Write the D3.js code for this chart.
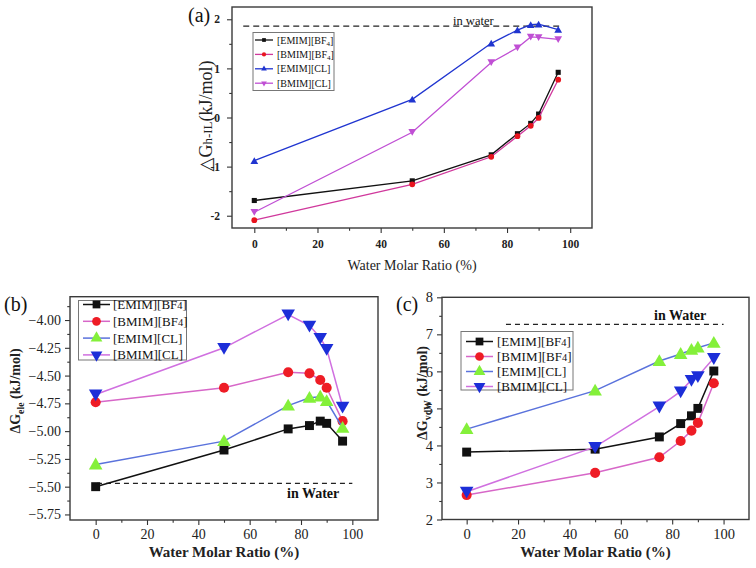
<!DOCTYPE html>
<html><head><meta charset="utf-8">
<script src="https://cdn.jsdelivr.net/npm/d3@7"></script>
<style>html,body{margin:0;padding:0;background:#fff;} svg{display:block;} svg text{font-family:"Liberation Serif","DejaVu Serif",serif;}</style>
</head><body><svg id="c" width="756" height="568"></svg>
<script>
// ---------- data ----------
const waterRatio = [0, 50, 75, 83.3, 87.5, 90, 96.2];
const seriesNames = ["EMIM|BF4", "BMIM|BF4", "EMIM|CL", "BMIM|CL"];

// (a) ΔG h-IL
const hIL_EMIM_BF4 = [-1.69, -1.29, -0.76, -0.33, -0.12, 0.07, 0.92];
const hIL_BMIM_BF4 = [-2.09, -1.36, -0.80, -0.38, -0.17, -0.01, 0.77];
const hIL_EMIM_CL  = [-0.88, 0.37, 1.51, 1.78, 1.89, 1.90, 1.79];
const hIL_BMIM_CL  = [-1.93, -0.30, 1.12, 1.42, 1.64, 1.63, 1.59];
const hIL_water = 1.86;

// (b) ΔG ele
const ele_EMIM_BF4 = [-5.50, -5.17, -4.98, -4.95, -4.91, -4.93, -5.09];
const ele_BMIM_BF4 = [-4.74, -4.61, -4.47, -4.48, -4.54, -4.61, -4.91];
const ele_EMIM_CL  = [-5.30, -5.09, -4.77, -4.70, -4.69, -4.73, -4.97];
const ele_BMIM_CL  = [-4.67, -4.25, -3.95, -4.05, -4.16, -4.26, -4.78];
const ele_water = -5.47;

// (c) ΔG vdW
const vdw_EMIM_BF4 = [3.82, 3.90, 4.23, 4.59, 4.80, 5.00, 6.01];
const vdw_BMIM_BF4 = [2.66, 3.26, 3.68, 4.12, 4.40, 4.61, 5.68];
const vdw_EMIM_CL  = [4.44, 5.48, 6.28, 6.47, 6.58, 6.64, 6.77];
const vdw_BMIM_CL  = [2.75, 3.96, 5.05, 5.46, 5.77, 5.87, 6.36];
const vdw_water = 7.27;

const xTicks = [0, 20, 40, 60, 80, 100];
const xMinor = [10, 30, 50, 70, 90];
const yTicksA = [-2, -1, 0, 1, 2];
const yMinorA = [-1.5, -0.5, 0.5, 1.5];
const yTicksB = [-5.75, -5.5, -5.25, -5.0, -4.75, -4.5, -4.25, -4.0];
const yMinorB = [-5.625, -5.375, -5.125, -4.875, -4.625, -4.375, -4.125, -3.875];
const yTicksC = [2, 3, 4, 5, 6, 7, 8];
const yMinorC = [2.5, 3.5, 4.5, 5.5, 6.5, 7.5];

const svg = d3.select("#c");

function sym(type, size) {
  const s = {sq: d3.symbolSquare, ci: d3.symbolCircle, up: d3.symbolTriangle, dn: d3.symbolTriangle}[type];
  return d3.symbol().type(s).size(size)();
}

function panel(cfg) {
  const g = svg.append("g");
  const x = d3.scaleLinear().domain(cfg.xDom).range([cfg.L, cfg.R]);
  const y = d3.scaleLinear().domain(cfg.yDom).range([cfg.B, cfg.T]);

  const ax = g.append("g").attr("transform", `translate(0,${cfg.B})`)
    .call(d3.axisBottom(x).tickValues(xTicks).tickSize(cfg.tick).tickPadding(cfg.pad).tickFormat(d3.format("d")));
  ax.select(".domain").remove();
  ax.selectAll("text").attr("font-size", cfg.tickFs).attr("font-weight", cfg.tickFw).attr("fill", "#222");
  const axm = g.append("g").attr("transform", `translate(0,${cfg.B})`)
    .call(d3.axisBottom(x).tickValues(xMinor).tickSize(cfg.tick * 0.55).tickFormat(""));
  axm.select(".domain").remove();

  const ay = g.append("g").attr("transform", `translate(${cfg.L},0)`)
    .call(d3.axisLeft(y).tickValues(cfg.yTicks).tickSize(cfg.tick).tickPadding(cfg.pad).tickFormat(cfg.yFmt));
  ay.select(".domain").remove();
  ay.selectAll("text").attr("font-size", cfg.tickFs).attr("font-weight", cfg.tickFw).attr("fill", "#222");
  const aym = g.append("g").attr("transform", `translate(${cfg.L},0)`)
    .call(d3.axisLeft(y).tickValues(cfg.yMinor).tickSize(cfg.tick * 0.55).tickFormat(""));
  aym.select(".domain").remove();
  g.selectAll(".tick line").attr("stroke", "#333").attr("stroke-width", 1.1);

  g.append("rect").attr("x", cfg.L).attr("y", cfg.T).attr("width", cfg.R - cfg.L).attr("height", cfg.B - cfg.T)
    .attr("fill", "none").attr("stroke", "#3a3a3a").attr("stroke-width", 1.4);

  g.append("line").attr("x1", x(cfg.water.x0)).attr("x2", x(cfg.water.x1))
    .attr("y1", y(cfg.water.y)).attr("y2", y(cfg.water.y))
    .attr("stroke", "#222").attr("stroke-width", 1.3).attr("stroke-dasharray", cfg.water.dash);
  g.append("text").attr("x", cfg.water.tx).attr("y", cfg.water.ty).text(cfg.water.label)
    .attr("font-size", cfg.water.fs).attr("font-weight", cfg.water.fw).attr("fill", "#111");

  cfg.series.forEach(s => {
    const pts = waterRatio.map((w, i) => [x(w), y(s.vals[i])]);
    g.append("path").attr("d", d3.line()(pts)).attr("fill", "none")
      .attr("stroke", s.line).attr("stroke-width", cfg.lw);
    g.selectAll(null).data(pts).enter().append("path")
      .attr("d", sym(s.m, cfg.ms))
      .attr("transform", d => `translate(${d[0]},${d[1] + (s.m === "up" ? 1 : s.m === "dn" ? -1 : 0)})${s.m === "dn" ? " rotate(180)" : ""}`)
      .attr("fill", s.mk);
  });

  const lg = cfg.legend;
  g.append("rect").attr("x", lg.x).attr("y", lg.y).attr("width", lg.w).attr("height", lg.h)
    .attr("fill", "#fff").attr("stroke", "#777").attr("stroke-width", 1);
  cfg.series.forEach((s, i) => {
    const yy = lg.y0 + i * lg.dy;
    g.append("line").attr("x1", lg.lx0).attr("x2", lg.lx1).attr("y1", yy).attr("y2", yy)
      .attr("stroke", s.line).attr("stroke-width", cfg.lw);
    g.append("path").attr("d", sym(s.m, lg.ms))
      .attr("transform", `translate(${(lg.lx0 + lg.lx1) / 2},${yy})${s.m === "dn" ? " rotate(180)" : ""}`)
      .attr("fill", s.mk);
    const parts = seriesNames[i].split("|");
    const t = g.append("text").attr("x", lg.tx).attr("y", yy + lg.fs * 0.35).attr("font-size", lg.fs).attr("fill", "#111");
    t.append("tspan").text("[" + parts[0] + "][");
    if (parts[1] === "BF4") {
      t.append("tspan").text("BF");
      if (lg.sub) {
        t.append("tspan").text("4").attr("font-size", lg.fs * 0.7).attr("dy", lg.fs * 0.25);
        t.append("tspan").text("]").attr("dy", -lg.fs * 0.25);
      } else {
        t.append("tspan").text("4").attr("font-size", lg.fs * 0.8);
        t.append("tspan").text("]");
      }
    } else {
      t.append("tspan").text(parts[1] + "]");
    }
  });

  g.append("text").attr("x", cfg.letter.x).attr("y", cfg.letter.y).text(cfg.letter.t)
    .attr("font-size", cfg.letter.fs).attr("fill", "#111");

  g.append("text").attr("x", (cfg.L + cfg.R) / 2 + cfg.xlab.dx).attr("y", cfg.xlab.y)
    .attr("text-anchor", "middle").attr("font-size", cfg.xlab.fs).attr("font-weight", cfg.xlab.fw)
    .attr("fill", "#222").text("Water Molar Ratio (%)");

  const yl = g.append("text").attr("transform", `translate(${cfg.ylab.x},${cfg.ylab.y}) rotate(-90)`)
    .attr("text-anchor", "middle").attr("font-size", cfg.ylab.fs).attr("font-weight", cfg.ylab.fw).attr("fill", "#222");
  yl.append("tspan").text(cfg.ylab.pre);
  yl.append("tspan").text(cfg.ylab.sub).attr("font-size", cfg.ylab.fs * cfg.ylab.subScale).attr("dy", cfg.ylab.subDy);
  yl.append("tspan").text(cfg.ylab.post).attr("dy", -cfg.ylab.subDy);
}

const hyphenFmt = d => (d < 0 ? "-" : "") + Math.abs(d);

panel({
  L: 232, R: 592, T: 7, B: 228,
  xDom: [-7.06, 106.9], yDom: [-2.25, 2.25],
  yTicks: yTicksA, yMinor: yMinorA, yFmt: hyphenFmt,
  tick: 5, pad: 7, tickFs: 11.5, tickFw: "bold", lw: 1.3, ms: 26,
  water: {y: hIL_water, x0: -3.5, x1: 96.5, dash: "6,4", label: "in water", tx: 453, ty: 25, fs: 12.5, fw: "normal"},
  series: [
    {vals: hIL_EMIM_BF4, line: "#111", mk: "#111", m: "sq"},
    {vals: hIL_BMIM_BF4, line: "#d0389c", mk: "#e8141e", m: "ci"},
    {vals: hIL_EMIM_CL, line: "#2035d0", mk: "#2035d0", m: "up"},
    {vals: hIL_BMIM_CL, line: "#c04fd4", mk: "#c04fd4", m: "dn"}
  ],
  legend: {x: 253, y: 32.5, w: 81, h: 58, y0: 40, dy: 14.4, lx0: 255, lx1: 273, tx: 277, fs: 10, ms: 14, sub: true},
  letter: {x: 188, y: 22, t: "(a)", fs: 20},
  xlab: {y: 270, fs: 14, fw: "normal", dx: 0},
  ylab: {x: 212, y: 116, fs: 18, fw: "normal", pre: "△G", sub: "h-IL", post: "(kJ/mol)", subScale: 0.72, subDy: 0}
});

const bcSeries = (a, b, c, d) => [
  {vals: a, line: "#111", mk: "#111", m: "sq"},
  {vals: b, line: "#d767c8", mk: "#ee1c25", m: "ci"},
  {vals: c, line: "#5a72dc", mk: "#84f03a", m: "up"},
  {vals: d, line: "#d070e0", mk: "#1c2ed8", m: "dn"}
];

panel({
  L: 70, R: 378, T: 296.7, B: 520,
  xDom: [-10, 110], yDom: [-5.8, -3.79],
  yTicks: yTicksB, yMinor: yMinorB, yFmt: d3.format(".2f"),
  tick: 5, pad: 4, tickFs: 14, tickFw: "normal", lw: 1.5, ms: 80,
  water: {y: ele_water, x0: 0.5, x1: 100, dash: "5,4", label: "in Water", tx: 287, ty: 498, fs: 14, fw: "bold"},
  series: bcSeries(ele_EMIM_BF4, ele_BMIM_BF4, ele_EMIM_CL, ele_BMIM_CL),
  legend: {x: 78.5, y: 300.5, w: 108, h: 59.5, y0: 304.5, dy: 16.8, lx0: 83, lx1: 110, tx: 113, fs: 13, ms: 60, sub: false},
  letter: {x: 4, y: 311, t: "(b)", fs: 20},
  xlab: {y: 557, fs: 15, fw: "bold", dx: 0},
  ylab: {x: 20, y: 391, fs: 14, fw: "bold", pre: "ΔG", sub: "ele", post: " (kJ/mol)", subScale: 0.7, subDy: 4}
});

panel({
  L: 442, R: 749, T: 297.3, B: 519.5,
  xDom: [-9.6, 109.9], yDom: [2, 8],
  yTicks: yTicksC, yMinor: yMinorC, yFmt: d3.format("d"),
  tick: 5, pad: 4, tickFs: 14.5, tickFw: "normal", lw: 1.5, ms: 80,
  water: {y: vdw_water, x0: 15.3, x1: 100, dash: "5,4", label: "in Water", tx: 654, ty: 320, fs: 14, fw: "bold"},
  series: bcSeries(vdw_EMIM_BF4, vdw_BMIM_BF4, vdw_EMIM_CL, vdw_BMIM_CL),
  legend: {x: 461, y: 331.5, w: 112, h: 58.5, y0: 341.5, dy: 15, lx0: 466, lx1: 493, tx: 497, fs: 13, ms: 60, sub: false},
  letter: {x: 396, y: 311, t: "(c)", fs: 20},
  xlab: {y: 557, fs: 15, fw: "bold", dx: 0},
  ylab: {x: 427, y: 393, fs: 14, fw: "bold", pre: "ΔG", sub: "vdW", post: " (kJ/mol)", subScale: 0.7, subDy: 4}
});
</script></body></html>
